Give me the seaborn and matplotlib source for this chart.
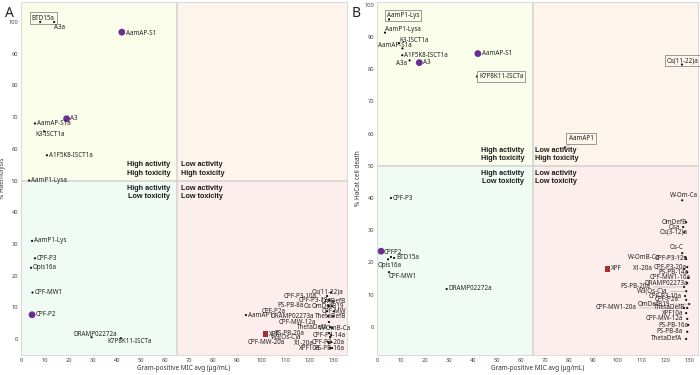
import numpy as np
import pandas as pd
import matplotlib
matplotlib.use('Agg')
import matplotlib.pyplot as plt
from matplotlib.patches import Rectangle
import seaborn as sns

# ---- panel A: Gram-positive MIC avg vs % haemolysis ----
a_names = ['BTD15a', 'A3a', 'AamAP-S1', 'A3', 'AamAP-S1a', 'K3-ISCT1a', 'A1F5K8-ISCT1a',
           'AamP1-Lysa', 'AamP1-Lys', 'CPF-P3', 'Opis16a', 'CPF-MW1', 'CPF-P2',
           'DRAMP02272a', 'K7P8K11-ISCTa', 'AamAP1', 'XPF',
           'Os(11-22)a', 'CPF-P3-10a', 'CPF-P3-12a', 'OmDefB', 'PS-PB-8a', 'Os', 'OmDefB19',
           'CPF-P2a', 'CPF-MW', 'DRAMP02273a', 'ThetaDefB', 'CPF-MW-12a', 'ThetaDefA',
           'W-OmB-Ca', 'PS-PB-20a', 'W3(Os-C)a', 'CPF-P3-14a', 'CPF-MW-20a', 'X1-20a',
           'CPF-P3-20a', 'XPF10a', 'PS-PB-16a']
a_mic = [8, 13.8, 42, 19, 5.8, 9.6, 10.8,
         3.4, 4.6, 5.8, 4.2, 4.8, 4.6,
         29.4, 41.6, 93.7, 101.7,
         129.2, 127.5, 128.3, 130, 127.9, 128.3, 129.6,
         127.5, 130.4, 127.9, 130, 128.3, 128.75,
         129.6, 128.3, 128.75, 129.2, 127.9, 128.3,
         129.2, 128.75, 129.6]
a_haem = [100, 100, 96.8, 69.5, 68, 65.5, 58,
          50, 31, 25.5, 22.5, 14.7, 7.7,
          0.6, 0.3, 7.6, 1.6,
          14.8, 13.6, 12.3, 12.0, 10.7, 10.4, 10.4,
          8.8, 8.8, 7.3, 7.3, 5.4, 3.8,
          3.5, 1.9, 0.6, 1.3, -0.9, -1.3,
          -0.9, -2.8, -2.8]
a_kind = ['dot', 'dot', 'lead', 'lead', 'dot', 'dot', 'dot',
          'dot', 'dot', 'dot', 'dot', 'dot', 'lead',
          'dot', 'dot', 'dot', 'xpf'] + ['dot'] * 22
a_boxed = ['BTD15a']

# ---- panel B: Gram-positive MIC avg vs % HaCat cell death ----
b_names = ['AamP1-Lys', 'AamP1-Lysa', 'K3-ISCT1a', 'AamAP-S1a', 'A1F5K8-ISCT1a', 'A3a', 'A3',
           'AamAP-S1', 'K7P8K11-ISCTa', 'Os(11-22)a', 'AamAP1', 'CPF-P3', 'CPFP2', '',
           'BTD15a', 'Opis16a', 'CPF-MW1', 'DRAMP02272a', 'XPF', 'W-Om-Ca',
           'OmDefB', 'Osa', 'Os(3-12)a', 'Os-C', 'W-OmB-Ca', 'CPF-P3-12a', 'CPF-P3-20a',
           'X1-20a', 'PS-PB-14a', 'CPF-MW1-16a', 'DRAMP02273a', 'PS-PB-20a', 'W3(Os-C)a',
           'CPF-P3-10a', 'CPF-P2a', 'OmDefB19', 'CPF-MW1-20a', 'ThetaDefB', 'XPF10a',
           'CPF-MW-12a', 'PS-PB-16a', 'PS-PB-8a', 'ThetaDefA']
b_mic = [5, 3.3, 9.2, 10.6, 10.5, 13.6, 17.6,
         42, 41.6, 127, 78.3, 5.8, 1.7, 5.8,
         7.1, 4.6, 5, 29, 96, 127.1,
         128.75, 127.5, 127.9, 127.1, 128.3, 128.75, 129.2,
         127.9, 129.2, 129.6, 129.2, 127.9, 128.75,
         128.3, 128.75, 130, 127.9, 129.2, 128.75,
         129.2, 129.6, 129.2, 128.75]
b_death = [95.4, 91.3, 88, 86.4, 84.3, 82.7, 82,
           84.8, 77.7, 81.4, 55.7, 40, 23.5, 21.7,
           21.4, 21, 17, 11.8, 18, 39.3,
           32.5, 31.0, 29.4, 22.9, 21.7, 21.1, 18.6,
           18.0, 17.0, 15.2, 13.6, 12.4, 11.1,
           9.6, 8.4, 7.1, 5.9, 5.9, 4.3,
           2.5, 0.6, -1.5, -3.7]
b_kind = ['dot', 'dot', 'dot', 'dot', 'dot', 'dot', 'lead',
          'lead', 'dot', 'dot', 'dot', 'dot', 'lead', 'dot',
          'dot', 'dot', 'dot', 'dot', 'xpf', 'dot'] + ['dot'] * 23
b_boxed = ['AamP1-Lys', 'K7P8K11-ISCTa', 'Os(11-22)a', 'AamAP1']

# label placement (offset pixels dx, dy, horizontal alignment); default right of point
A_POS = {'BTD15a': (3, 4, 'center'), 'A3a': (0, -5, 'left'), 'AamAP-S1': (4, -1, 'left'),
         'A3': (3, 0, 'left'), 'K3-ISCT1a': (6, -3, 'center'), 'CPF-P2': (4, 0, 'left'),
         'DRAMP02272a': (4, 3, 'center'), 'K7P8K11-ISCTa': (9, -3, 'center'),
         'XPF': (4, 0, 'left'),
         'Os(11-22)a': (-4, 0, 'center'), 'CPF-P3-10a': (-27, 0, 'center'),
         'CPF-P3-12a': (-14, 0, 'center'), 'OmDefB': (0, 0, 'center'),
         'PS-PB-8a': (-38, 0, 'center'), 'Os': (-21, 0, 'center'),
         'OmDefB19': (-4, 0, 'center'), 'CPF-P2a': (-53, 0, 'center'),
         'CPF-MW': (0, 0, 'center'), 'DRAMP02273a': (-36, 0, 'center'),
         'ThetaDefB': (-2, 0, 'center'), 'CPF-MW-12a': (-32, 0, 'center'),
         'ThetaDefA': (-18, 0, 'center'), 'W-OmB-Ca': (3, 0, 'center'),
         'PS-PB-20a': (-40, 0, 'center'), 'W3(Os-C)a': (-44, 0, 'center'),
         'CPF-P3-14a': (-2, 0, 'center'), 'CPF-MW-20a': (-62, 0, 'center'),
         'X1-20a': (-25, 0, 'center'), 'CPF-P3-20a': (-3, 0, 'center'),
         'XPF10a': (-20, 0, 'center'), 'PS-PB-16a': (-3, 0, 'center')}
B_POS = {'AamP1-Lys': (14, 4, 'center'), 'AamP1-Lysa': (0, 3, 'left'),
         'K3-ISCT1a': (0, 3, 'left'), 'AamAP-S1a': (-8, 3, 'center'),
         'A3a': (-3, -3, 'right'), 'A3': (4, 0, 'left'), 'AamAP-S1': (4, 0, 'left'),
         'Os(11-22)a': (1, 4, 'center'), 'AamAP1': (16, 9, 'center'),
         'CPFP2': (3, -1, 'left'), 'Opis16a': (2, -6, 'center'), 'CPF-MW1': (0, -4, 'left'),
         'XPF': (3, 0, 'left'), 'W-Om-Ca': (2, 5, 'center'),
         'OmDefB': (1, 0, 'right'), 'Osa': (-3, 0, 'right'), 'Os(3-12)a': (4, 0, 'right'),
         'Os-C': (-6, 6, 'center'), 'W-OmB-Ca': (-25, 0, 'right'),
         'CPF-P3-12a': (2, 0, 'right'), 'CPF-P3-20a': (-1, 0, 'right'),
         'X1-20a': (-31, 0, 'right'), 'PS-PB-14a': (1, 0, 'right'),
         'CPF-MW1-16a': (2, 0, 'right'), 'DRAMP02273a': (1, 0, 'right'),
         'PS-PB-20a': (-34, 0, 'right'), 'W3(Os-C)a': (-19, 0, 'right'),
         'CPF-P3-10a': (-3, 0, 'right'), 'CPF-P2a': (-8, 0, 'right'),
         'OmDefB19': (-19, 0, 'right'), 'CPF-MW1-20a': (-48, 0, 'right'),
         'ThetaDefB': (-2, 0, 'right'), 'XPF10a': (-3, 0, 'right'),
         'CPF-MW-12a': (-4, 0, 'right'), 'PS-PB-16a': (0, 0, 'right'),
         'PS-PB-8a': (-5, 0, 'right'), 'ThetaDefA': (-4, 0, 'right')}

sns.set_theme(style='white')
plt.rcParams['font.family'] = ['Noto Sans', 'DejaVu Sans']

PAL = {'dot': '#111111', 'lead': '#6a2d94', 'xpf': '#a3302e'}
MARK = {'dot': 'o', 'lead': 'o', 'xpf': 's'}
SIZES = {'dot': 2.5, 'lead': 24, 'xpf': 14}
QUAD = ['#fafde9', '#fdf4ec', '#f0fbf4', '#fdeeee']


def draw_panel(ax, names, xs, ys, kinds, boxed, pos, xlim, ylim, ylabel, letter, leaders,
               qgap, letter_x):
    x0, x1 = xlim
    y0, y1 = ylim
    # quadrant backgrounds
    ax.add_patch(Rectangle((x0, 50), 65 - x0, y1 - 50, fc=QUAD[0], ec='none', zorder=0))
    ax.add_patch(Rectangle((65, 50), x1 - 65, y1 - 50, fc=QUAD[1], ec='none', zorder=0))
    ax.add_patch(Rectangle((x0, y0), 65 - x0, 50 - y0, fc=QUAD[2], ec='none', zorder=0))
    ax.add_patch(Rectangle((65, y0), x1 - 65, 50 - y0, fc=QUAD[3], ec='none', zorder=0))
    ax.axvline(65, color='#d2d2d2', lw=1.1, zorder=1)
    ax.axhline(50, color='#d2d2d2', lw=1.1, zorder=1)

    df = pd.DataFrame({'mic': xs, 'tox': ys, 'kind': kinds})
    sns.scatterplot(data=df, x='mic', y='tox', hue='kind', style='kind', size='kind',
                    palette=PAL, markers=MARK, sizes=SIZES, linewidth=0,
                    legend=False, ax=ax, zorder=3)

    for n, x, y in zip(names, xs, ys):
        if not n:
            continue
        dx, dy, ha = pos.get(n, (2, 0, 'left'))
        kw = {}
        if n in boxed:
            kw['bbox'] = dict(boxstyle='square,pad=0.35', fc='none', ec='#8a8a8a', lw=0.6)
        if leaders and abs(dx) > 15:
            kw['arrowprops'] = dict(arrowstyle='-', lw=0.3, color='#888888',
                                    shrinkA=0, shrinkB=0)
        ax.annotate(n, (x, y), xytext=(dx, dy), textcoords='offset pixels',
                    ha=ha, va='center', fontsize=4.5, color='#222222', zorder=4, **kw)

    qfont = dict(fontsize=5.2, fontweight='bold', family=['Liberation Sans', 'DejaVu Sans'],
                 color='#1a1a1a', linespacing=1.25, zorder=5)
    gl, gr = qgap
    ax.annotate('High activity\nHigh toxicity', (65, 50), xytext=(-gl, 4),
                textcoords='offset pixels', ha='right', va='bottom', **qfont)
    ax.annotate('Low activity\nHigh toxicity', (65, 50), xytext=(gr, 4),
                textcoords='offset pixels', ha='left', va='bottom', **qfont)
    ax.annotate('High activity\nLow toxicity', (65, 50), xytext=(-gl, -4),
                textcoords='offset pixels', ha='right', va='top', **qfont)
    ax.annotate('Low activity\nLow toxicity', (65, 50), xytext=(gr, -4),
                textcoords='offset pixels', ha='left', va='top', **qfont)

    ax.set_xlim(xlim)
    ax.set_ylim(ylim)
    ax.set_xticks(np.arange(0, 131, 10))
    ax.set_yticks(np.arange(0, 101, 10))
    ax.tick_params(labelsize=4.1, length=0, pad=2, colors='#444444')
    ax.set_xlabel('Gram-positive MIC avg (µg/mL)', fontsize=4.6, labelpad=1.5, color='#333333')
    ax.set_ylabel(ylabel, fontsize=4.6, labelpad=1.5, color='#333333')
    for s in ax.spines.values():
        s.set_color('#dcdcdc')
        s.set_linewidth(0.8)
    ax.text(letter_x, 0.99, letter, transform=ax.transAxes, fontsize=10, color='#222222',
            ha='left', va='top')


fig = plt.figure(figsize=(7, 3.75), dpi=100)
axA = fig.add_axes([0.030, 0.0533, 0.4657, 0.9413])
axB = fig.add_axes([0.5386, 0.0533, 0.4586, 0.9413])

draw_panel(axA, a_names, a_mic, a_haem, a_kind, a_boxed, A_POS,
           (0, 135.8), (-5, 106.3), '% Haemolysis', 'A', False, (7, 4), -0.05)
draw_panel(axB, b_names, b_mic, b_death, b_kind, b_boxed, B_POS,
           (0, 133.7), (-8.7, 100.8), '% HaCat cell death', 'B', True, (9, 2), -0.08)

fig.savefig('out.png', dpi=100)
